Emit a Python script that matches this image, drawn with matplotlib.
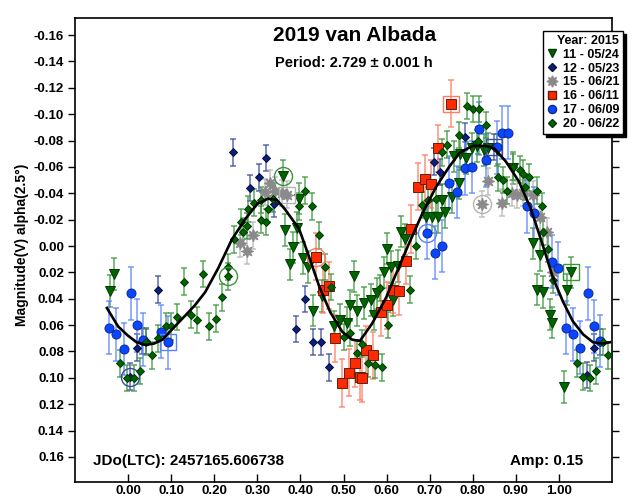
import numpy as np
import matplotlib.pyplot as plt
from matplotlib.lines import Line2D

plt.rcParams['font.family'] = ['Liberation Sans', 'DejaVu Sans']
plt.rcParams['font.weight'] = 'bold'

# session 11 - 05/24 (green triangles)
s11_ph = [-0.032, -0.042, 0.360, 0.364, 0.383, 0.376, 0.397, 0.406, 0.418, 0.392, 0.429, 0.450,
          0.478, 0.492, 0.508, 0.515, 0.531, 0.524, 0.548, 0.564, 0.571, 0.578, 0.594, 0.610,
          0.601, 0.626, 0.615, 0.633, 0.643, 0.691, 0.705, 0.719, 0.735, 0.729, 0.752, 0.768,
          0.757, 0.770, 0.784, 0.798, 0.810, 0.826, 0.835, 0.856, 0.893, 0.940, 0.956, 0.949,
          0.963, 0.979, 0.984, 1.019, 1.028, 1.012]
s11_mag = [0.021, 0.034, -0.053, -0.012, 0.001, 0.014, -0.036, 0.009, 0.016, -0.014, 0.049, 0.038,
           0.061, 0.056, 0.058, 0.045, 0.049, 0.023, 0.043, 0.041, 0.052, 0.036, 0.020, 0.016,
           0.002, 0.015, 0.041, -0.011, -0.005, -0.022, -0.022, -0.022, -0.026, -0.035, -0.037, -0.048,
           -0.068, -0.070, -0.067, -0.074, -0.076, -0.073, -0.074, -0.073, -0.059, -0.002, 0.007, 0.033,
           0.035, 0.052, 0.058, 0.033, 0.020, 0.107]
s11_err = 0.012

# session 12 - 05/23 (navy diamonds)
s12_ph = [0.005, 0.021, 0.032, 0.042, 0.070, 0.244, 0.320, 0.304, 0.283, 0.339, 0.411, 0.390,
          0.429, 0.448, 0.466, 0.710, 0.724, 0.782, 0.850, 1.065, 1.081, 1.095]
s12_mag = [0.099, 0.077, 0.072, 0.072, 0.033, -0.071, -0.067, -0.052, -0.044, -0.032, 0.040, 0.063,
           0.073, 0.073, 0.092, -0.064, -0.056, -0.083, -0.075, 0.098, 0.077, 0.073]
s12_err = 0.010

# session 15 - 06/21 (gray asterisks)
s15_ph = [0.260, 0.276, 0.290, 0.318, 0.329, 0.341, 0.357, 0.369, 0.821, 0.835, 0.868, 0.891,
          0.903, 0.916, 0.940, 0.956, 0.972, 0.986]
s15_mag = [-0.002, 0.004, -0.008, -0.041, -0.048, -0.042, -0.040, -0.039, -0.032, -0.049, -0.033, -0.040,
           -0.039, -0.040, -0.039, -0.022, -0.011, 0.020]
s15_err = 0.010

# session 16 - 06/11 (red squares)
s16_ph = [0.436, 0.452, 0.466, 0.480, 0.497, 0.513, 0.527, 0.538, 0.543, 0.552, 0.568, 0.587,
          0.601, 0.615, 0.629, 0.645, 0.657, 0.673, 0.689, 0.703, 0.719, 0.749]
s16_mag = [0.008, 0.033, 0.030, 0.070, 0.104, 0.096, 0.089, 0.099, 0.100, 0.079, 0.083, 0.050,
           0.045, 0.033, 0.034, 0.011, -0.013, -0.045, -0.051, -0.047, -0.074, -0.108]
s16_err = 0.018

# session 17 - 06/09 (blue circles)
s17_ph = [-0.044, -0.028, 0.007, -0.009, 0.021, 0.035, 0.077, 0.093, 0.694, 0.712, 0.729, 0.745,
          0.763, 0.782, 0.798, 0.814, 0.831, 0.856, 0.868, 0.882, 0.926, 0.942, 0.984, 0.998,
          1.016, 1.032, 1.049, 1.067, 1.081, 1.095]
s17_mag = [0.062, 0.067, 0.036, 0.078, 0.060, 0.071, 0.065, 0.073, -0.010, 0.005, 0.000, -0.048,
           -0.041, -0.059, -0.060, -0.089, -0.065, -0.075, -0.086, -0.086, -0.030, -0.025, 0.012, 0.017,
           0.062, 0.067, 0.077, 0.036, 0.061, 0.072]
s17_err = 0.020

# session 20 - 06/22 (green diamonds)
s20_ph = [-0.019, -0.002, 0.014, 0.028, 0.042, 0.056, 0.070, 0.088, 0.100, 0.114, 0.130, 0.146,
          0.160, 0.174, 0.188, 0.204, 0.218, 0.232, 0.232, 0.246, 0.262, 0.267, 0.276, 0.278,
          0.292, 0.309, 0.320, 0.309, 0.325, 0.336, 0.397, 0.411, 0.427, 0.443, 0.457, 0.471,
          0.501, 0.515, 0.531, 0.543, 0.557, 0.573, 0.589, 0.585, 0.603, 0.654, 0.668, 0.682,
          0.696, 0.715, 0.729, 0.740, 0.768, 0.786, 0.800, 0.814, 0.831, 0.812, 0.858, 0.870,
          0.879, 0.893, 0.909, 0.916, 0.930, 0.921, 0.949, 0.961, 0.963, 0.974, 0.986, 1.042,
          1.056, 1.072, 1.086, 1.102, 1.114]
s20_mag = [0.089, 0.100, 0.100, 0.095, 0.073, 0.083, 0.070, 0.061, 0.061, 0.054, 0.027, 0.052,
           0.056, 0.021, 0.061, 0.055, 0.039, 0.023, 0.016, -0.005, -0.018, -0.011, -0.015, -0.028,
           -0.033, -0.020, -0.018, -0.035, -0.028, -0.036, -0.030, -0.042, -0.030, -0.008, 0.016, 0.031,
           0.069, 0.066, 0.081, 0.074, 0.089, 0.090, 0.092, 0.032, 0.060, 0.033, 0.000, -0.031,
           -0.035, -0.036, -0.071, -0.077, -0.084, -0.106, -0.104, -0.104, -0.092, -0.080, -0.052, -0.050,
           -0.042, -0.060, -0.058, -0.055, -0.052, -0.045, -0.042, -0.030, -0.011, 0.002, 0.026, 0.089,
           0.099, 0.100, 0.095, 0.073, 0.083]
s20_err = 0.010

# Fourier fit curve
fit_ph = [-0.049, -0.023, 0.000, 0.020, 0.040, 0.060, 0.080, 0.100, 0.132, 0.155, 0.179, 0.209,
          0.241, 0.271, 0.300, 0.325, 0.345, 0.364, 0.397, 0.420, 0.443, 0.469, 0.497, 0.520,
          0.538, 0.566, 0.599, 0.622, 0.652, 0.682, 0.715, 0.745, 0.770, 0.800, 0.830, 0.850,
          0.877, 0.907, 0.935, 0.963, 0.986, 1.009, 1.032, 1.056, 1.079, 1.100, 1.118]
fit_mag = [0.047, 0.061, 0.068, 0.073, 0.075, 0.074, 0.071, 0.064, 0.053, 0.045, 0.035, 0.017,
           -0.005, -0.020, -0.032, -0.036, -0.035, -0.028, -0.013, 0.008, 0.030, 0.050, 0.065, 0.071,
           0.072, 0.059, 0.039, 0.021, -0.002, -0.024, -0.045, -0.060, -0.071, -0.076, -0.076, -0.074,
           -0.064, -0.049, -0.028, 0.000, 0.024, 0.042, 0.057, 0.067, 0.073, 0.074, 0.073]

# first (circle) / last (square) point markers per session, as indices
sessions = [
    ('11 - 05/24', s11_ph, s11_mag, s11_err, 'v', '#006400', '#003a00', '#3c963c', 2, 52),
    ('12 - 05/23', s12_ph, s12_mag, s12_err, 'D', '#0b1f78', '#050f40', '#3b4c9a', 0, 18),
    ('15 - 06/21', s15_ph, s15_mag, s15_err, (8, 1, 0), '#8a8a8a', '#8a8a8a', '#b4b4b4', 8, 7),
    ('16 - 06/11', s16_ph, s16_mag, s16_err, 's', '#ff2a00', '#602010', '#ff7a60', 0, 21),
    ('17 - 06/09', s17_ph, s17_mag, s17_err, 'o', '#0a46ff', '#0a2a90', '#5a82ff', 8, 7),
    ('20 - 06/22', s20_ph, s20_mag, s20_err, 'D', '#006400', '#003a00', '#3c963c', 17, None),
]

fig = plt.figure(figsize=(6.44, 4.99), dpi=100)
ax = fig.add_axes([75/644, 17/499, 537/644, 464/499])

handles = []
for name, ph, mag, err, mk, fc, ec, bc, ci, si in sessions:
    ph = np.array(ph)
    mag = np.array(mag)
    ms = 4.5 if mk == 'D' else 6.5
    if isinstance(mk, tuple):
        ms = 9
    ax.errorbar(ph, mag, yerr=err, fmt='none', ecolor=bc, elinewidth=1.2, capsize=2.5,
                capthick=1.2, alpha=0.75, zorder=2)
    ax.plot(ph, mag, ls='none', marker=mk, color=fc, markeredgecolor=ec, markeredgewidth=0.7,
            ms=ms, zorder=3)
    if ci is not None:
        ax.plot(ph[ci], mag[ci], 'o', mfc='none', mec=bc, ms=13, mew=1.0, zorder=3)
    if si is not None:
        ax.plot(ph[si], mag[si], 's', mfc='none', mec=bc, ms=12, mew=1.0, zorder=3)
    handles.append(Line2D([], [], ls='none', marker=mk, color=fc, markeredgecolor=ec,
                          ms=ms * 0.9, label=name))

ax.plot(fit_ph, fit_mag, '-', color='black', lw=1.9, zorder=5)

ax.set_xlim(-0.123, 1.123)
ax.set_ylim(0.179, -0.173)
ax.set_xticks(np.arange(0, 1.01, 0.1))
ax.set_xticklabels(['%.2f' % v for v in np.arange(0, 1.01, 0.1)], fontsize=9.5)
ax.set_yticks(np.arange(-0.16, 0.161, 0.02))
ax.set_yticklabels(['%.2f' % v if abs(v) > 1e-9 else '0.00' for v in np.arange(-0.16, 0.161, 0.02)],
                   fontsize=9.5)
ax.tick_params(axis='x', direction='in', length=6, width=1, pad=2.5)
ax.tick_params(axis='y', direction='out', length=5, width=1, right=True, pad=3)
for sp in ax.spines.values():
    sp.set_linewidth(1.2)

ax.text(0.52, 0.962, '2019 van Albada', transform=ax.transAxes, ha='center', va='center',
        fontsize=15)
ax.text(0.52, 0.903, 'Period: 2.729 ± 0.001 h', transform=ax.transAxes, ha='center',
        va='center', fontsize=10.5)
ax.text(0.034, 0.045, 'JDo(LTC): 2457165.606738', transform=ax.transAxes, ha='left',
        va='center', fontsize=11)
ax.text(0.946, 0.045, 'Amp: 0.15', transform=ax.transAxes, ha='right', va='center',
        fontsize=11)
fig.text(22/644, 1 - 245/499, 'Magnitude(V) alpha(2.5°)', rotation=90, ha='center',
         va='center', fontsize=10)

leg = fig.legend(handles=handles, title='Year: 2015', loc='upper right',
                 bbox_to_anchor=(623/644, 1 - 31/499), fontsize=9, title_fontsize=9,
                 fancybox=False, shadow={'color': 'black', 'alpha': 1}, edgecolor='black',
                 framealpha=1, handlelength=0.8, handletextpad=0.5, labelspacing=0.15,
                 borderpad=0.3, borderaxespad=0)
leg.get_frame().set_linewidth(1.0)
leg.get_title().set_fontweight('bold')
leg._legend_box.align = 'right'

fig.savefig('out.png', dpi=100)
